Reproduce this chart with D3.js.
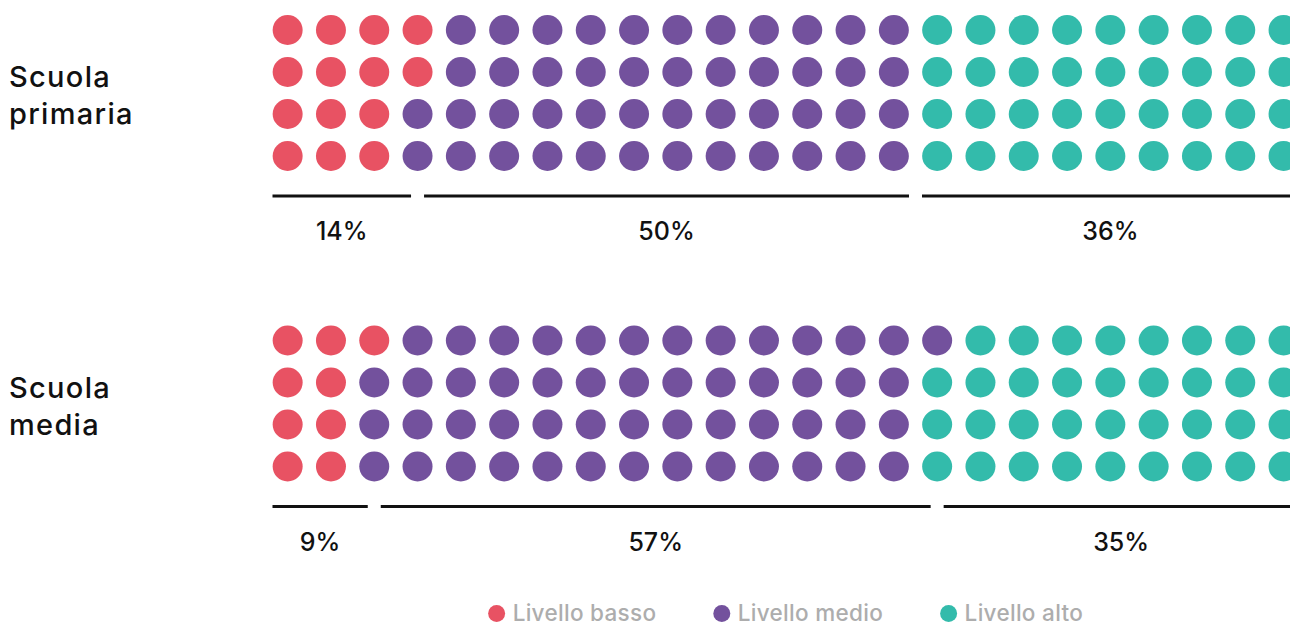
<!DOCTYPE html>
<html>
<head>
<meta charset="utf-8">
<script src="https://cdn.jsdelivr.net/npm/d3@7"></script>
<style>
  html, body { margin: 0; padding: 0; background: #ffffff; }
  svg { display: block; font-family: Inter, "Noto Sans", sans-serif; }
</style>
</head>
<body>
<svg id="chart" width="1290" height="628"></svg>
<script>
// ---- data ----
const groupNames = ["Scuola primaria", "Scuola media"];
const groupLabelLines = [["Scuola", "primaria"], ["Scuola", "media"]];
const levels = ["Livello basso", "Livello medio", "Livello alto"];
const levelColors = ["#E85263", "#73519D", "#33BBAB"];
const percentPrimaria = [14, 50, 36];
const percentMedia = [9, 57, 35];
const dotsPrimaria = [14, 46, 36];
const dotsMedia = [9, 52, 35];
const percentValues = [percentPrimaria, percentMedia];
const dotValues = [dotsPrimaria, dotsMedia];

// ---- layout ----
const W = 1290, H = 628;
const nRows = 4, nCols = 24;
const colStep = 43.3, rowStep = 42, dotR = 15;
const gridLeft = 266;
const groupTops = [9, 319.5];
const gap = 6.5;

const svg = d3.select("#chart");

const xCol = d3.scaleBand().domain(d3.range(nCols)).range([gridLeft, gridLeft + nCols * colStep]).padding(0);
const xPos = d3.scaleLinear().domain([0, nCols]).range([gridLeft, gridLeft + nCols * colStep]);
const color = d3.scaleOrdinal().domain(levels).range(levelColors);

groupNames.forEach((gname, gi) => {
  const top = groupTops[gi];
  const yRow = d3.scaleBand().domain(d3.range(nRows)).range([top, top + nRows * rowStep]).padding(0);
  const g = svg.append("g").attr("class", "group");

  // expand dots column-major
  const dots = [];
  dotValues[gi].forEach((count, li) => {
    for (let k = 0; k < count; k++) dots.push(levels[li]);
  });
  g.selectAll("circle.dot").data(dots).join("circle")
    .attr("class", "dot")
    .attr("cx", (d, i) => xCol(Math.floor(i / nRows)) + xCol.bandwidth() / 2)
    .attr("cy", (d, i) => yRow(i % nRows) + yRow.bandwidth() / 2)
    .attr("r", dotR)
    .attr("fill", d => color(d));

  // group label
  const labelMid = top + nRows * rowStep / 2;
  const lt = g.append("text")
    .attr("x", 9)
    .attr("y", labelMid - 6)
    .attr("font-size", 29)
    .attr("font-weight", 500)
    .attr("letter-spacing", 1.3)
    .attr("fill", "#111");
  groupLabelLines[gi].forEach((line, k) => {
    lt.append("tspan").attr("x", 9).attr("dy", k === 0 ? 0 : 37).text(line);
  });

  // segment boundaries in column units
  let cum = 0;
  const bounds = [0];
  dotValues[gi].forEach((c, li) => {
    cum += c;
    if (li < dotValues[gi].length - 1) {
      bounds.push(cum % nRows === 0 ? cum / nRows : Math.floor(cum / nRows) + 0.5);
    }
  });
  bounds.push(nCols);

  const segs = percentValues[gi].map((p, li) => ({
    p, x1: xPos(bounds[li]) + gap, x2: xPos(bounds[li + 1]) - gap
  }));
  const lineY = top + nRows * rowStep + 19;
  g.selectAll("line.seg").data(segs).join("line")
    .attr("class", "seg")
    .attr("x1", d => d.x1).attr("x2", d => d.x2)
    .attr("y1", lineY).attr("y2", lineY)
    .attr("stroke", "#111").attr("stroke-width", 3);
  g.selectAll("text.pct").data(segs).join("text")
    .attr("class", "pct")
    .attr("x", d => (d.x1 + d.x2) / 2)
    .attr("y", lineY + 44)
    .attr("text-anchor", "middle")
    .attr("font-size", 25)
    .attr("font-weight", 500)
    .attr("fill", "#111")
    .text(d => d.p + "%");
});

// ---- legend ----
const legend = svg.append("g").attr("class", "legend");
const legY = 613.5;
const items = legend.selectAll("g.item").data(levels).join("g").attr("class", "item");
items.append("circle").attr("r", 8.5).attr("cx", 0).attr("cy", legY).attr("fill", d => color(d));
items.append("text").attr("x", 16).attr("y", legY + 7.5)
  .attr("font-size", 22.5).attr("font-weight", 500).attr("letter-spacing", 0.3).attr("fill", "#ADADAD")
  .text(d => d);
let widths = [];
items.each(function () { widths.push(this.getBBox().width); });
const itemGap = 57;
const total = d3.sum(widths) + itemGap * (widths.length - 1);
const center = (xPos(0) + gap + xPos(nCols) - gap) / 2;
let cx = center - total / 2;
items.each(function (d, i) {
  d3.select(this).attr("transform", `translate(${cx + 8.5},0)`);
  cx += widths[i] + itemGap;
});
</script>
</body>
</html>
